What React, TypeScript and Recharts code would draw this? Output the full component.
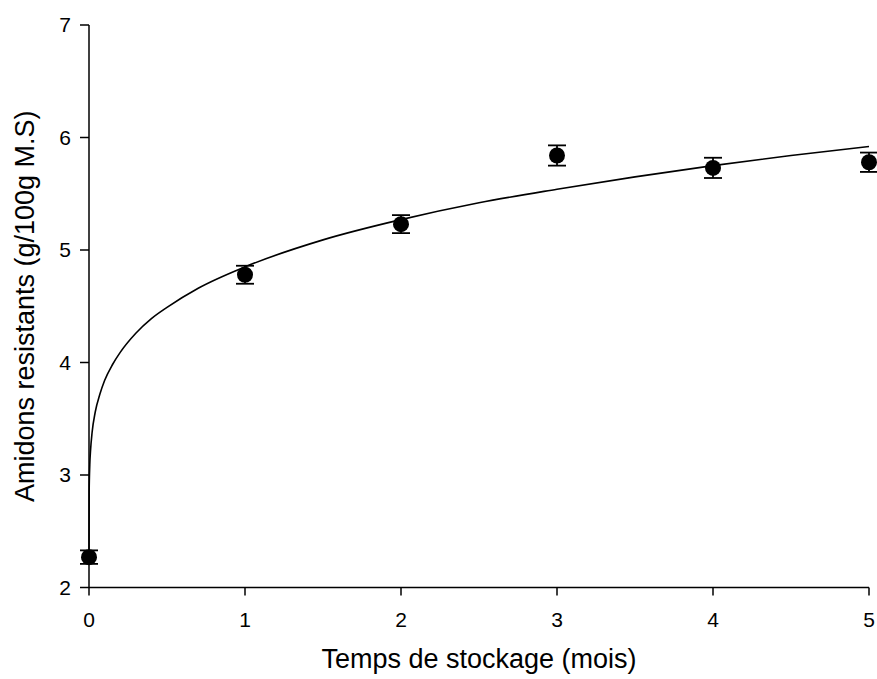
import React from "react";
import { ComposedChart, Scatter, Line, XAxis, YAxis, ErrorBar } from "recharts";

// Measured points (mean ± error)
const months = [0, 1, 2, 3, 4, 5];
const means = [2.27, 4.78, 5.23, 5.84, 5.73, 5.78];
const errors = [0.06, 0.08, 0.08, 0.09, 0.09, 0.086];

// Fitted curve
const curveX = [0, 0.001, 0.005, 0.01, 0.02, 0.04, 0.07, 0.1, 0.15, 0.2, 0.3, 0.4, 0.5, 0.7, 1, 1.5, 2, 2.5, 3, 3.5, 4, 4.5, 5];
const curveY = [2.27, 2.85, 3.09, 3.22, 3.38, 3.56, 3.72, 3.84, 3.98, 4.09, 4.26, 4.39, 4.49, 4.66, 4.85, 5.09, 5.27, 5.42, 5.54, 5.65, 5.75, 5.84, 5.92];

const xTicks = [0, 1, 2, 3, 4, 5];
const yTicks = [2, 3, 4, 5, 6, 7];

const xTitle = "Temps de stockage (mois)";
const yTitle = "Amidons resistants (g/100g M.S)";

const points = months.map((m, i) => ({ x: m, y: means[i], err: errors[i] }));
const curve = curveX.map((x, i) => ({ x, y: curveY[i] }));

const FONT = "'Liberation Sans', Arial, sans-serif";

const renderTickX = (p: any) => (
  <text x={p.x} y={p.y} dy="0.71em" textAnchor="middle" fontSize={21} fontFamily={FONT} fill="#000">
    {p.payload.value}
  </text>
);
const renderTickY = (p: any) => (
  <text x={p.x} y={p.y} dy="0.355em" textAnchor="end" fontSize={21} fontFamily={FONT} fill="#000">
    {p.payload.value}
  </text>
);

export default function App() {
  return (
    <div style={{ position: "absolute", left: 0, top: 0, width: 877, height: 679, background: "#fff" }}>
      <ComposedChart
        width={877}
        height={679}
        margin={{ top: 25, right: 8, bottom: 0, left: 0 }}
        style={{ fontFamily: FONT }}
      >
        <XAxis
          type="number"
          dataKey="x"
          domain={[0, 5]}
          ticks={xTicks}
          height={91.5}
          tickSize={8}
          tickMargin={17}
          stroke="#000"
          strokeWidth={1.5}
          tick={renderTickX}
          label={{
            content: ({ viewBox }: any) => (
              <text
                x={viewBox.x + viewBox.width / 2}
                y={viewBox.y + 80}
                textAnchor="middle"
                fontSize={27}
                fontFamily={FONT}
                fill="#000"
              >
                {xTitle}
              </text>
            ),
          }}
        />
        <YAxis
          type="number"
          dataKey="y"
          domain={[2, 7]}
          ticks={yTicks}
          width={89}
          tickSize={9}
          tickMargin={9}
          stroke="#000"
          strokeWidth={1.5}
          tick={renderTickY}
          label={{
            content: ({ viewBox }: any) => {
              const cx = 34;
              const cy = viewBox.y + viewBox.height / 2;
              return (
                <text
                  x={cx}
                  y={cy}
                  transform={`rotate(-90, ${cx}, ${cy})`}
                  textAnchor="middle"
                  fontSize={27}
                  fontFamily={FONT}
                  fill="#000"
                >
                  {yTitle}
                </text>
              );
            },
          }}
        />
        <Line
          data={curve}
          dataKey="y"
          type="monotone"
          stroke="#000"
          strokeWidth={1.6}
          dot={false}
          activeDot={false}
          isAnimationActive={false}
        />
        <Scatter
          data={points}
          dataKey="y"
          fill="#000"
          isAnimationActive={false}
          shape={(p: any) => <circle cx={p.cx} cy={p.cy} r={8} fill="#000" />}
        >
          <ErrorBar dataKey="err" direction="y" width={9} stroke="#000" strokeWidth={1.8} />
        </Scatter>
      </ComposedChart>
    </div>
  );
}
